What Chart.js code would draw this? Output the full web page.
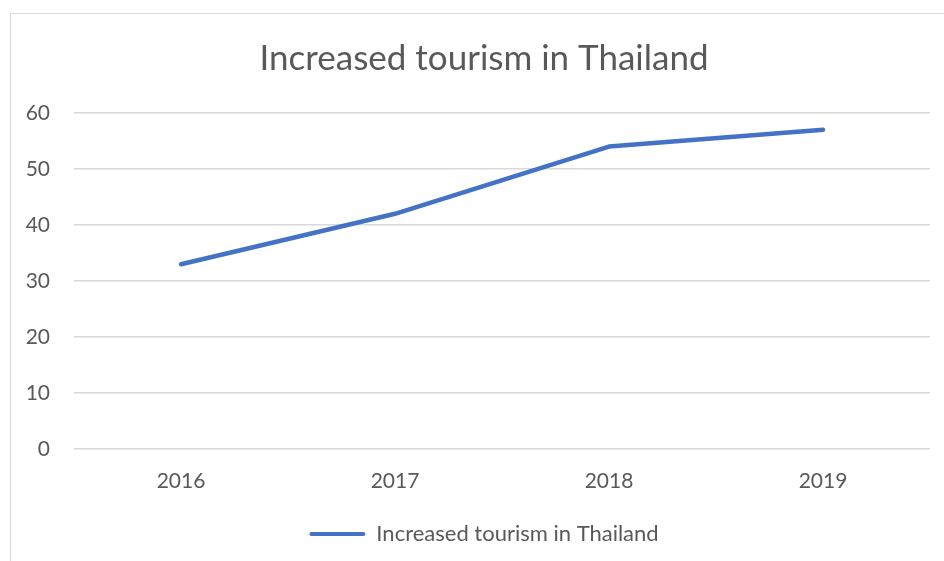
<!DOCTYPE html>
<html>
<head>
<meta charset="utf-8">
<script src="https://cdn.jsdelivr.net/npm/chart.js@4/dist/chart.umd.min.js"></script>
<style>
  html, body { margin: 0; padding: 0; background: #fff; overflow: hidden; width: 944px; height: 561px; }
  #frame { position: absolute; left: 10px; top: 13px; width: 946px; height: 560px; border: 1px solid #d9d9d9; background: #fff; }
  canvas { display: block; }
</style>
</head>
<body>
<div id="frame"><canvas id="c" width="946" height="547"></canvas></div>
<script>
const categories = ["2016", "2017", "2018", "2019"];
const tourismValues = [33, 42, 54, 57];
const seriesName = "Increased tourism in Thailand";
const chartTitle = "Increased tourism in Thailand";
const yTicks = [0, 10, 20, 30, 40, 50, 60];

const textColor = "#595959";
const fontFamily = "Lato, 'Open Sans', sans-serif";

new Chart(document.getElementById("c"), {
  type: "line",
  data: {
    labels: categories,
    datasets: [{
      label: seriesName,
      data: tourismValues,
      borderColor: "#4472C4",
      backgroundColor: "#4472C4",
      borderWidth: 4.5,
      borderCapStyle: "round",
      borderJoinStyle: "round",
      pointRadius: 0,
      pointHoverRadius: 0,
      tension: 0,
      fill: false,
      yAxisID: "y"
    }]
  },
  options: {
    responsive: false,
    animation: false,
    layout: { padding: { left: 0, right: 0, top: 0, bottom: 6 } },
    plugins: {
      title: {
        display: true,
        text: chartTitle,
        color: textColor,
        font: { family: fontFamily, size: 35, weight: "normal" },
        padding: { top: 24, bottom: 33 }
      },
      legend: {
        display: true,
        position: "bottom",
        labels: {
          color: textColor,
          font: { family: fontFamily, size: 22 },
          boxWidth: 56,
          boxHeight: 4,
          useBorderRadius: true,
          borderRadius: 2,
          padding: 10,
          generateLabels: (chart) => chart.data.datasets.map((ds, i) => ({
            text: ds.label,
            fillStyle: ds.borderColor,
            strokeStyle: ds.borderColor,
            lineWidth: 0,
            borderRadius: 2,
            fontColor: textColor,
            datasetIndex: i
          }))
        }
      },
      tooltip: { enabled: false }
    },
    scales: {
      x: {
        offset: true,
        grid: { display: false, drawTicks: false },
        border: { display: false },
        ticks: { color: textColor, font: { family: fontFamily, size: 21 }, padding: 20 },
        afterFit: (s) => { s.height = 64; }
      },
      y: {
        position: "left",
        min: 0,
        max: 60,
        afterBuildTicks: (s) => { s.ticks = yTicks.map(v => ({ value: v })); },
        grid: { color: "#d9d9d9", lineWidth: 1.5, drawTicks: false },
        border: { display: false },
        ticks: { color: textColor, font: { family: fontFamily, size: 21 }, padding: 24 },
        afterFit: (s) => { s.width = 63; }
      },
      yRightSpacer: {
        type: "linear",
        position: "right",
        display: true,
        grid: { display: false, drawTicks: false },
        border: { display: false },
        ticks: { display: false },
        afterFit: (s) => { s.width = 27; }
      }
    }
  }
});
</script>
</body>
</html>
